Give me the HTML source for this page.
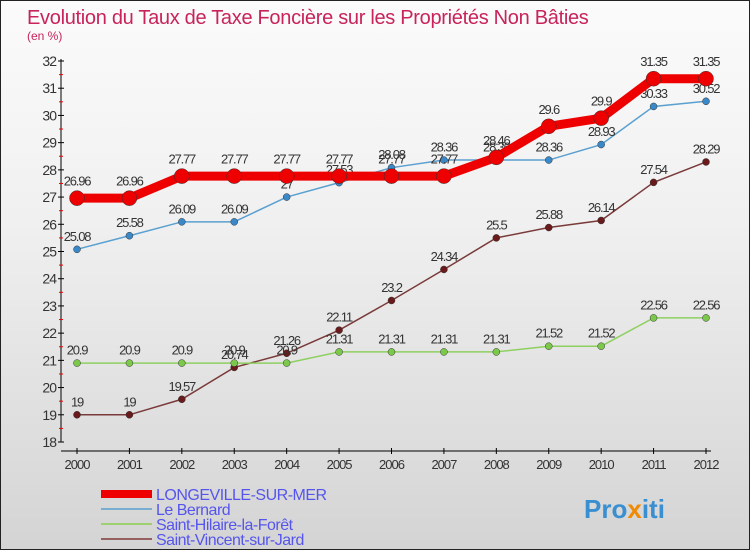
<!DOCTYPE html>
<html><head><meta charset="utf-8"><style>
body{margin:0}
#wrap{width:750px;height:550px;position:relative;box-sizing:border-box;border:1px solid #222;background:linear-gradient(#fbfbfb,#f0f0f0 40%,#d4d4d4);font-family:"Liberation Sans",sans-serif;overflow:hidden}
svg{position:absolute;left:0;top:0}
</style></head><body>
<div id="wrap">
<svg id="svg" width="750" height="550">
<text x="26" y="23" font-size="20" fill="#c8235a" letter-spacing="-0.3">Evolution du Taux de Taxe Foncière sur les Propriétés Non Bâties</text>
<text x="26" y="39" font-size="12" fill="#c8235a">(en %)</text>
<g id="axes"></g><g id="series"></g><g id="legend"></g>
<text x="583" y="517" font-size="26" font-weight="bold" fill="#3a8fd0">Pro<tspan fill="#f08a00">x</tspan>iti</text>
</svg></div>
<script>
const years=[2000,2001,2002,2003,2004,2005,2006,2007,2008,2009,2010,2011,2012];
const yTicks=[18,19,20,21,22,23,24,25,26,27,28,29,30,31,32];
const seriesNames=["LONGEVILLE-SUR-MER","Le Bernard","Saint-Hilaire-la-Forêt","Saint-Vincent-sur-Jard"];
const longeville=[26.96,26.96,27.77,27.77,27.77,27.77,27.77,27.77,28.46,29.6,29.9,31.35,31.35];
const bernard=[25.08,25.58,26.09,26.09,27,27.53,28.08,28.36,28.36,28.36,28.93,30.33,30.52];
const hilaire=[20.9,20.9,20.9,20.9,20.9,21.31,21.31,21.31,21.31,21.52,21.52,22.56,22.56];
const vincent=[19,19,19.57,20.74,21.26,22.11,23.2,24.34,25.5,25.88,26.14,27.54,28.29];
const NS="http://www.w3.org/2000/svg";
const xs=i=>76+i*(705-76)/(years.length-1);
const ys=v=>441-(v-18)*(441-60)/14;
function mk(t,a,p){const e=document.createElementNS(NS,t);for(const k in a)e.setAttribute(k,a[k]);p.appendChild(e);return e;}
const ax=document.getElementById('axes');
let e=mk('line',{x1:60,y1:58,x2:60,y2:441,stroke:'#000'},ax);

e=mk('line',{x1:60,y1:450,x2:710,y2:450,stroke:'#000'},ax);

yTicks.forEach(v=>{const y=ys(v);mk('line',{x1:57,y1:y,x2:63,y2:y,stroke:'#000'},ax);
 if(v<32)mk('line',{x1:58,y1:y-13.6,x2:62,y2:y-13.6,stroke:'#e00'},ax);
 const t=mk('text',{x:55,y:y+5,'font-size':14,fill:'#333','text-anchor':'end','letter-spacing':'-1'},ax);t.textContent=v;
 });
years.forEach((yr,i)=>{const x=xs(i);mk('line',{x1:x,y1:447,x2:x,y2:453,stroke:'#000'},ax);
 const t=mk('text',{x:x,y:468,'font-size':13,fill:'#333','text-anchor':'middle','letter-spacing':'-1'},ax);t.textContent=yr;
 });
const sg=document.getElementById('series');
const defs=[[vincent,'#7a3a3a','#6a1a1a',1.5,3.5,'saint-vincent'],[hilaire,'#8ed060','#7cc84a',1.5,3.5,'le-hilaire'],[bernard,'#5aa0d0','#3a88c8',1.5,3.5,'le-bernard'],[longeville,'#ee0000','#ee0000',9,7.5,'longeville']];
defs[1][5]='saint-hilaire';
defs.forEach(([d,c,mc,w,r,n])=>{
 const g=mk('g',{},sg);
 const l=mk('polyline',{points:d.map((v,i)=>xs(i)+','+ys(v)).join(' '),fill:'none',stroke:c,'stroke-width':w},g);
 
 d.forEach((v,i)=>{const p=mk('circle',{cx:xs(i),cy:ys(v),r:r,fill:mc,stroke:'#333','stroke-width':0.5},g);
  
  const t=mk('text',{x:xs(i),y:ys(v)-(r+5),'font-size':13,fill:'#333','text-anchor':'middle','letter-spacing':'-1.2'},g);t.textContent=v;
  });
});
const lg=document.getElementById('legend');
const lc=[['#ee0000',8],['#7aaed0',2],['#9ed070',2],['#946060',2]];
seriesNames.forEach((n,i)=>{const y=493+i*15;
 const g=mk('g',{},lg);
 mk('line',{x1:100,y1:y,x2:151,y2:y,stroke:lc[i][0],'stroke-width':lc[i][1]},g);
 const t=mk('text',{x:155,y:y+6,'font-size':16,fill:'#5555ee','letter-spacing':'-0.5'},g);t.textContent=n;});
</script></body></html>
